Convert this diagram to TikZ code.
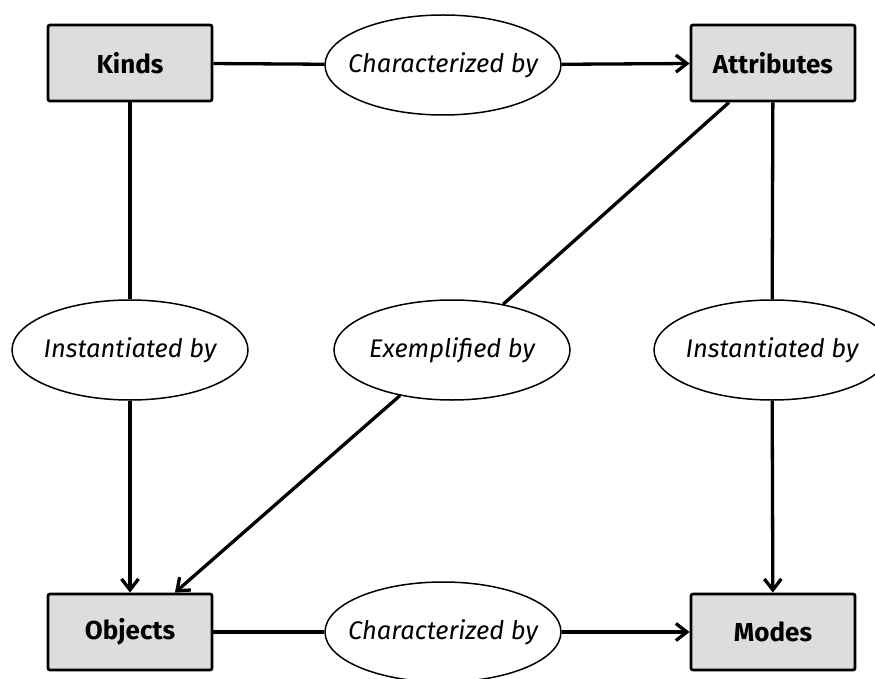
\documentclass[tikz,border=0pt]{standalone}
\usepackage{fontspec}
\setmainfont{Fira Sans}
\usetikzlibrary{arrows.meta,shapes.geometric,positioning}
\newcommand{\rellabel}[1]{\makebox[0pt]{#1}}

\begin{document}
\begin{tikzpicture}[x=1pt,y=-1pt,->,>={Straight Barb[length=11pt,width=17pt]},
		auto,
		link/.style={draw,line width=3.3pt},
		box/.style={rectangle,draw,line width=2.8pt,rounded corners=2pt,fill=gray!27,
			minimum width=164pt,minimum height=76pt,font=\fontsize{26}{30}\selectfont\bfseries},
		relation/.style={ellipse,draw,line width=1.5pt,fill=white,inner sep=0pt,
			minimum width=236pt,minimum height=100pt,font=\fontsize{25.5}{30}\selectfont\itshape}]
	\useasboundingbox (0,0) rectangle (875,679);
	\node[box] (kinds) at (130,63) {Kinds};
	\node[box] (attributes) [right of=kinds,node distance=643pt] {Attributes};
	\node[box] (objects) [below of=kinds,node distance=569pt] {Objects};
	\node[box] (modes) [right of=objects,node distance=643pt] {Modes};

	\node[relation] (charTop) at (443,65) {\rellabel{Characterized by}};
	\node[relation] (charBottom) at (443,632) {\rellabel{Characterized by}};
	\node[relation] (instLeft) at (130,350) {\rellabel{Instantiated by}};
	\node[relation] (exempl) at (452,350) {\rellabel{Exemplified by}};
	\node[relation] (instRight) at (772,350) {\rellabel{Instantiated by}};

	\draw[link,-] (kinds) -- (charTop);
	\draw[link] (charTop) -- (attributes);
	\draw[link,-] (kinds) -- (instLeft);
	\draw[link] (instLeft) -- (objects);
	\draw[link,-] (attributes) -- (exempl);
	\draw[link] (exempl) -- (objects);
	\draw[link,-] (attributes) -- (instRight);
	\draw[link] (instRight) -- (modes);
	\draw[link,-] (objects) -- (charBottom);
	\draw[link] (charBottom) -- (modes);
\end{tikzpicture}
\end{document}
